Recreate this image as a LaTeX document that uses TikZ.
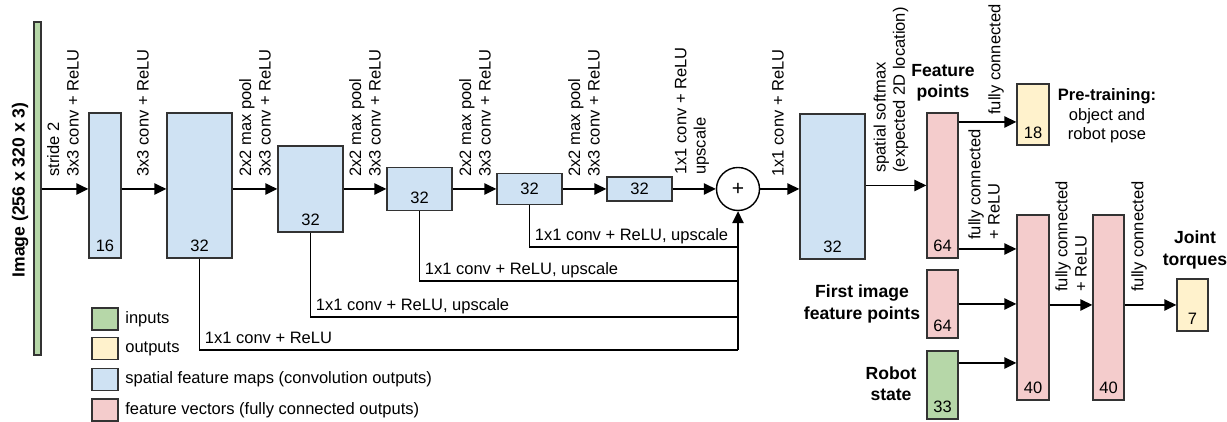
\documentclass[tikz,border=0pt]{standalone}
\usepackage{fontspec}
\setmainfont{Liberation Sans}
\usetikzlibrary{arrows.meta,positioning}
\definecolor{netGreen}{HTML}{b6d7a8}
\definecolor{netYellow}{HTML}{fff2cc}
\definecolor{netBlue}{HTML}{cfe2f3}
\definecolor{netPink}{HTML}{f4cccc}
\definecolor{netLine}{HTML}{333333}
\tikzset{
  >={Triangle[length=2.4mm,width=2.3mm]},
  layer/.style={draw=netLine, line width=0.8pt, inner sep=0pt},
  fmap/.style={layer, fill=netBlue},
  fvec/.style={layer, fill=netPink},
  inp/.style={layer, fill=netGreen},
  outp/.style={layer, fill=netYellow},
  key/.style={layer, minimum width=0.52cm, minimum height=0.44cm},
  num/.style={anchor=south, inner sep=0pt, yshift=1.4mm},
  lbl/.style={rotate=90, anchor=west, align=left, inner sep=0pt},
  ttl/.style={font=\bfseries, align=center, inner sep=0pt},
  skiplbl/.style={anchor=base west, inner sep=0pt, xshift=1mm, yshift=1.3mm},
  flow/.style={->, draw=black, line width=0.8pt},
  skip/.style={draw=black, line width=0.8pt},
}
\begin{document}
\begin{tikzpicture}[font=\fontsize{9.4}{11}\selectfont]
  \useasboundingbox (0,0) rectangle (24.54,8.44);
  % rows used by the connectors
  \coordinate (row) at (0,4.66);
  \coordinate (ptr) at (0,6.00);
  \coordinate (yfp) at (0,3.46);
  \coordinate (yrs) at (0,1.18);
  \coordinate (y1) at (0,3.50);
  \coordinate (y2) at (0,2.82);
  \coordinate (y3) at (0,2.10);
  \coordinate (y4) at (0,1.44);
  % input image
  \node[inp,minimum width=0.14cm,minimum height=6.66cm] (img) at (0.75,4.67){};
  \node[ttl,rotate=90] (imgt) at (0.40,4.64){Image (256 x 320 x 3)};
  % convolution stack
  \node[fmap,minimum width=0.64cm,minimum height=2.90cm] (c1) at (2.10,4.73){};
  \node[fmap,minimum width=1.30cm,minimum height=2.90cm] (c2) at (3.99,4.73){};
  \node[fmap,minimum width=1.30cm,minimum height=1.72cm] (c3) at (6.21,4.66){};
  \node[fmap,minimum width=1.30cm,minimum height=0.86cm] (c4) at (8.39,4.66){};
  \node[fmap,minimum width=1.30cm,minimum height=0.62cm] (c5) at (10.59,4.66){};
  \node[fmap,minimum width=1.30cm,minimum height=0.48cm] (c6) at (12.79,4.66){};
  \node[circle,draw=black,line width=0.8pt,minimum size=0.86cm,inner sep=0pt,font=\large] (sum) at (14.76,4.66){+};
  \node[fmap,minimum width=1.30cm,minimum height=2.90cm] (c7) at (16.65,4.71){};
  % feature points and fully connected head
  \node[fvec,minimum width=0.62cm,minimum height=2.90cm] (fp) at (18.85,4.73){};
  \node[outp,minimum width=0.64cm,minimum height=1.22cm] (pose) at (20.66,6.15){};
  \node[fvec,minimum width=0.62cm,minimum height=1.36cm] (ffp) at (18.85,2.36){};
  \node[inp,minimum width=0.62cm,minimum height=1.36cm] (rs) at (18.85,0.74){};
  \node[fvec,minimum width=0.64cm,minimum height=3.70cm] (fc1) at (20.66,2.29){};
  \node[fvec,minimum width=0.62cm,minimum height=3.70cm] (fc2) at (22.17,2.29){};
  \node[outp,minimum width=0.62cm,minimum height=1.04cm] (out) at (23.85,2.34){};
  \foreach \n/\t in {c1/16,c2/32,c3/32,c4/32,c7/32,fp/64,pose/18,ffp/64,rs/33,fc1/40,fc2/40,out/7}{
    \node[num] (\n n) at (\n.south){\t};}
  \node (c5n) at (c5){32};
  \node (c6n) at (c6){32};
  % main path
  \draw[flow] (img.east |- row) -- (c1.west |- row);
  \draw[flow] (c1.east |- row) -- (c2.west |- row);
  \draw[flow] (c2.east |- row) -- (c3.west |- row);
  \draw[flow] (c3.east |- row) -- (c4.west |- row);
  \draw[flow] (c4.east |- row) -- (c5.west |- row);
  \draw[flow] (c5.east |- row) -- (c6.west |- row);
  \draw[flow] (c6.east |- row) -- (sum.west);
  \draw[flow] (sum.east) -- (c7.west |- sum);
  \draw[flow] (c7.east |- fp) -- (fp.west);
  \draw[flow] (fp.east |- ptr) -- (pose.west |- ptr);
  \draw[flow] (fp.east |- yfp) -- (fc1.west |- yfp);
  \draw[flow] (ffp.east) -- (fc1.west |- ffp);
  \draw[flow] (rs.east |- yrs) -- (fc1.west |- yrs);
  \draw[flow] (fc1.east |- out) -- (fc2.west |- out);
  \draw[flow] (fc2.east |- out) -- (out.west);
  % skip connections into the sum
  \draw[skip] (c5.south) |- (sum.south |- y1);
  \draw[skip] (c4.south) |- (sum.south |- y2);
  \draw[skip] (c3.south) |- (sum.south |- y3);
  \draw[skip] (c2.south) |- (sum.south |- y4);
  \draw[flow] (sum.south |- y4) -- (sum.south);
  \node[skiplbl] (s1) at (c5.south |- y1){1x1 conv + ReLU, upscale};
  \node[skiplbl] (s2) at (c4.south |- y2){1x1 conv + ReLU, upscale};
  \node[skiplbl] (s3) at (c3.south |- y3){1x1 conv + ReLU, upscale};
  \node[skiplbl] (s4) at (c2.south |- y4){1x1 conv + ReLU};
  % layer labels
  \node[lbl] (l1) at (1.26,4.90){stride 2\\3x3 conv + ReLU};
  \node[lbl] (l2) at (2.86,4.90){3x3 conv + ReLU};
  \foreach \i/\x in {3/5.10,4/7.30,5/9.50,6/11.68}{
    \node[lbl] (l\i) at (\x,4.90){2x2 max pool\\3x3 conv + ReLU};}
  \node[lbl] (l7) at (13.84,4.94){1x1 conv + ReLU\\upscale};
  \node[lbl] (l8) at (15.56,4.90){1x1 conv + ReLU};
  \node[lbl] (l9) at (17.82,4.98){spatial softmax\\(expected 2D location)};
  \node[lbl] (l10) at (19.92,6.14){fully connected};
  \node[lbl] (l11) at (19.68,3.64){fully connected\\+ ReLU};
  \node[lbl] (l12) at (21.42,2.60){fully connected\\+ ReLU};
  \node[lbl] (l13) at (22.78,2.60){fully connected};
  % titles
  \node[ttl] (fpt) at (18.86,6.78){Feature\\points};
  \node[align=center,inner sep=0pt] (poset) at (22.14,6.12){\textbf{Pre-training:}\\object and\\robot pose};
  \node[ttl] (outt) at (23.90,3.44){Joint\\torques};
  \node[ttl] (ffpt) at (17.24,2.36){First image\\feature points};
  \node[ttl] (rst) at (17.82,0.76){Robot\\state};
  % legend
  \foreach \s/\y/\t in {inp/2.06/inputs,outp/1.47/outputs,
      fmap/0.85/spatial feature maps (convolution outputs),
      fvec/0.24/feature vectors (fully connected outputs)}{
    \node[key,\s] (k\s) at (2.10,\y){};
    \node[anchor=west,inner sep=0pt] (t\s) at (2.50,\y){\t};}
\end{tikzpicture}
\end{document}
